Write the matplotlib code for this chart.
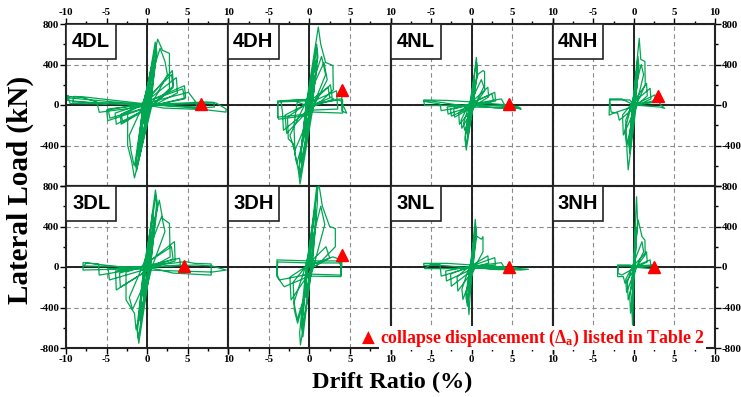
import matplotlib
matplotlib.use("Agg")
import matplotlib.pyplot as plt
from matplotlib.patches import Rectangle
import numpy as np

# specimen names, in panel order (row by row)
labels = ["4DL", "4DH", "4NL", "4NH", "3DL", "3DH", "3NL", "3NH"]

# collapse displacement markers (drift %, load kN)
collapse_drift = [6.6, 4.0, 4.6, 3.0, 4.5, 4.0, 4.6, 2.5]
collapse_load = [10, 150, 10, 90, 5, 120, 0, 0]

# hysteresis paths: (drift %, lateral load kN)
loop_4DL = [(0, 0), (0.4, 175), (0.45, 150), (0.15, 0), (-0.33, -190), (-0.4, -160), (-0.12, 0),
            (0.38, 160), (0.45, 130), (0.15, 0), (-0.35, -170), (-0.42, -140), (-0.1, 0),
            (0.6, 305), (0.7, 260), (0.25, 0), (-0.6, -320), (-0.7, -280), (-0.25, 0),
            (0.6, 280), (0.7, 240), (0.25, 0), (-0.6, -300), (-0.7, -260), (-0.2, 0),
            (0.8, 470), (0.95, 410), (0.35, 0), (-0.95, -515), (-1.05, -460), (-0.35, 0),
            (0.85, 430), (0.95, 380), (0.3, 0), (-1.0, -480), (-1.1, -420), (-0.3, 0),
            (1.0, 620), (1.15, 560), (0.45, 0), (-1.3, -650), (-1.4, -590), (-0.5, 0),
            (1.1, 580), (1.2, 520), (0.4, 0), (-1.35, -610), (-1.45, -550), (-0.45, 0),
            (1.3, 650), (1.9, 540), (2.75, 510), (2.75, 160), (0.6, 0), (-1.56, -720), (-1.9, -560),
            (-2.4, -400), (-2.4, -70), (-0.6, 0),
            (1.6, 560), (2.2, 430), (2.5, 300), (0.5, 0), (-1.6, -600), (-2.0, -450), (-2.2, -300), (-0.5, 0),
            (3.1, 340), (3.25, 190), (0.8, 0), (-3.2, -190), (-3.3, -100), (-0.8, 0),
            (3.0, 300), (3.2, 170), (0.7, 0), (-3.0, -170), (-3.2, -90), (-0.7, 0),
            (3.6, 270), (3.75, 120), (0.9, 0), (-3.8, -190), (-3.95, -80), (-1.0, 0),
            (4.6, 190), (4.75, 70), (1.0, 0), (-4.85, -155), (-5.0, -50), (-1.2, 0),
            (4.4, 160), (4.6, 60), (1.0, 0), (-4.6, -130), (-4.8, -40), (-1.0, 0),
            (5.1, 125), (5.9, 40), (6.2, -20), (1.0, 0), (-5.9, -72), (-6.2, 30), (-8, 75), (-9.8, 85),
            (-9.8, 45), (-6, 15), (-1, 0),
            (7.2, 30), (8.2, 26), (8.3, -20), (6, -30), (1, 0), (-7.8, 80), (-9.0, 85), (-9.2, 30),
            (-4, 20), (0, 0),
            (8.5, 20), (9.75, -40), (9.7, -70), (7, -45), (2, -30), (0, 0), (-9.6, 70), (-9.8, 95),
            (-9.5, 15), (-5, 10)]

loop_4DH = [(0, 0), (0.4, 260), (0.5, 200), (0.15, 0), (-0.5, -300), (-0.6, -250), (-0.15, 0),
            (0.45, 240), (0.5, 190), (0.15, 0), (-0.5, -280), (-0.6, -230), (-0.15, 0),
            (0.78, 440), (0.9, 380), (0.3, 0), (-0.95, -580), (-1.05, -500), (-0.3, 0),
            (0.8, 420), (0.9, 360), (0.3, 0), (-0.95, -540), (-1.05, -470), (-0.3, 0),
            (0.9, 600), (1.0, 520), (0.35, 0), (-1.15, -715), (-1.25, -620), (-0.4, 0),
            (0.95, 560), (1.05, 480), (0.35, 0), (-1.15, -680), (-1.25, -600), (-0.4, 0),
            (1.1, 770), (1.4, 600), (2.0, 420), (2.9, 390), (2.95, 150), (1.5, 40), (0.5, 0),
            (-1.15, -780), (-1.35, -650), (-1.77, -480), (-1.9, -200), (-1.5, 30), (-0.5, 0),
            (1.5, 480), (2.0, 300), (0.5, 0), (-1.56, -580), (-2.0, -380), (-2.6, -335), (-2.7, -120), (-0.6, 0),
            (1.8, 420), (2.2, 250), (0.6, 0), (-1.8, -450), (-2.4, -300), (-0.6, 0),
            (2.3, 175), (2.5, 80), (3.0, 60), (0.3, -20), (-3.2, -250), (-3.3, -80), (-3.5, 40),
            (-0.5, 50), (0, 0),
            (2.6, 200), (2.8, 80), (0.5, 0), (-2.8, -280), (-3.0, -100), (-0.6, 0),
            (3.35, 140), (3.4, 60), (3.5, -40), (0.5, -50), (0, -100), (-3.8, -140), (-3.9, -110),
            (-3.9, 40), (-0.5, 55), (0, 0),
            (3.8, 60), (4.1, 50), (4.1, -80), (0.5, -70), (-0.3, -90), (-3.9, -120), (-3.9, 30),
            (-0.5, 40), (0, 0),
            (3.5, 50), (3.9, 40), (4.6, -80), (4.0, -60), (4.0, 120)]

loop_4NL = [(0, 0), (0.3, 250), (0.4, 180), (0.1, 0), (-0.45, -320), (-0.55, -260), (-0.15, 0),
            (0.35, 230), (0.4, 170), (0.1, 0), (-0.45, -300), (-0.55, -240), (-0.15, 0),
            (0.58, 470), (0.7, 350), (0.2, 0), (-0.66, -445), (-0.8, -340), (-0.25, 0),
            (0.6, 420), (0.7, 320), (0.2, 0), (-0.7, -400), (-0.8, -310), (-0.25, 0),
            (0.8, 305), (1.4, 340), (1.6, 330), (1.6, 140), (0.4, 0), (-0.86, -250), (-1.0, -180), (-0.3, 0),
            (1.2, 250), (1.5, 180), (0.4, 0), (-1.2, -230), (-1.3, -150), (-0.4, 0),
            (2.0, 175), (2.1, 80), (0.5, 0), (-1.5, -190), (-1.6, -80), (-0.5, 0),
            (2.85, 125), (2.95, 40), (0.6, 0), (-2.1, -120), (-2.2, -40), (-0.6, 0),
            (2.5, 110), (2.7, 40), (0.6, 0), (-2.5, -110), (-2.6, -40), (-0.6, 0),
            (3.66, 60), (4.0, 10), (4.5, -10), (0.5, 0), (-2.9, -90), (-3.0, -20), (-0.5, 0),
            (5.0, -10), (6.1, -40), (5.5, -30), (3.0, -30), (0, 0), (-3.75, -56), (-3.9, 10),
            (-5.9, 36), (-5.9, 50), (-3, 45), (0, 30),
            (4.5, 0), (5.8, -20), (6.0, -30), (0, -20), (-5.0, 40), (-5.9, 40), (-5.8, -5), (-2, -5), (0, 0)]

loop_4NH = [(0, 0), (0.3, 300), (0.4, 220), (0.1, 0), (-0.3, -250), (-0.4, -200), (-0.1, 0),
            (0.5, 480), (0.6, 400), (0.15, 0), (-0.5, -480), (-0.6, -400), (-0.15, 0),
            (0.5, 440), (0.6, 370), (0.15, 0), (-0.5, -440), (-0.6, -370), (-0.15, 0),
            (0.66, 658), (0.85, 450), (1.36, 430), (1.4, 200), (0.3, 0), (-0.7, -640), (-0.85, -450),
            (-0.9, -345), (-1.0, -150), (-0.3, 0),
            (0.9, 400), (1.2, 300), (0.3, 0), (-0.9, -400), (-1.1, -250), (-0.3, 0),
            (1.56, 214), (1.65, 90), (0.4, 0), (-1.3, -296), (-1.4, -100), (-0.4, 0),
            (2.0, 165), (2.1, 60), (0.5, 0), (-1.8, -150), (-2.0, -80), (-2.8, -70), (-3.0, 60),
            (-1.5, 60), (0, 0),
            (2.6, 100), (2.7, 30), (0.5, 0), (-2.5, -80), (-3.05, -100), (-3.0, 50), (-0.5, 50), (0, 0),
            (3.0, 50), (3.3, 0), (3.8, -33), (3.2, -20), (0, 0)]

loop_3DL = [(0, 0), (0.4, 300), (0.5, 240), (0.15, 0), (-0.4, -300), (-0.5, -250), (-0.15, 0),
            (0.45, 280), (0.5, 230), (0.15, 0), (-0.45, -280), (-0.5, -230), (-0.15, 0),
            (0.7, 550), (0.8, 470), (0.25, 0), (-0.8, -560), (-0.9, -480), (-0.25, 0),
            (0.75, 520), (0.85, 450), (0.25, 0), (-0.85, -530), (-0.95, -460), (-0.25, 0),
            (1.03, 760), (1.2, 650), (0.4, 0), (-1.03, -753), (-1.2, -640), (-0.4, 0),
            (1.1, 700), (1.25, 600), (0.4, 0), (-1.1, -700), (-1.25, -600), (-0.4, 0),
            (1.5, 660), (1.9, 480), (2.75, 430), (2.84, 100), (0.6, 0), (-1.36, -620), (-1.56, -457),
            (-2.6, -325), (-2.6, -50), (-0.6, 0),
            (1.8, 500), (2.2, 350), (0.6, 0), (-1.8, -420), (-2.2, -300), (-0.6, 0),
            (3.37, 250), (3.45, 60), (0.7, 0), (-3.8, -227), (-3.9, -40), (-0.8, 0),
            (3.0, 200), (3.2, 80), (0.7, 0), (-3.3, -200), (-3.4, -60), (-0.8, 0),
            (4.0, 86), (4.1, 20), (0.8, 0), (-4.65, -128), (-4.8, -20), (-0.9, 0),
            (4.8, 53), (5.8, 36), (7.9, 30), (7.9, -80), (3.2, -60), (0, 0), (-5.9, -80), (-6.0, 30),
            (-7.9, 43), (-7.9, -30), (-3, -20), (0, 0),
            (6.0, 20), (8.0, 10), (9.75, -30), (8.0, -50), (0, -30), (-7.5, 40), (-7.8, 10), (0, 0)]

loop_3DH = [(0, 0), (0.4, 300), (0.5, 240), (0.15, 0), (-0.4, -300), (-0.5, -250), (-0.15, 0),
            (0.7, 600), (0.8, 500), (0.25, 0), (-0.8, -690), (-0.9, -600), (-0.25, 0),
            (0.75, 560), (0.85, 480), (0.25, 0), (-0.85, -640), (-0.95, -560), (-0.25, 0),
            (0.9, 790), (1.0, 650), (0.35, 0), (-1.1, -770), (-1.2, -650), (-0.4, 0),
            (1.15, 830), (1.6, 600), (2.5, 400), (3.2, 380), (3.2, 200), (1, 20), (0.4, 0),
            (-1.45, -555), (-1.85, -425), (-2.0, -150), (-0.5, 0),
            (1.4, 600), (1.9, 420), (0.5, 0), (-1.5, -520), (-1.9, -350), (-0.5, 0),
            (2.05, 200), (2.5, 90), (0.5, 0), (-2.26, -325), (-2.4, -100), (-0.5, 0),
            (2.9, 100), (3.9, 70), (3.9, -95), (0, -90), (-3.1, -195), (-4.0, -95), (-4.0, 70), (0, 60),
            (3.5, 60), (3.9, 30), (3.9, -80), (0, -70), (-3.7, -128), (-4.0, -70), (-3.9, 50), (0, 40),
            (3.7, 40), (4.0, 0), (4.0, 120)]

loop_3NL = [(0, 0), (0.3, 300), (0.4, 220), (0.1, 0), (-0.2, -300), (-0.33, -470), (-0.45, -330), (-0.1, 0),
            (0.45, 470), (0.55, 350), (0.15, 0), (-0.53, -385), (-0.65, -300), (-0.2, 0),
            (0.5, 400), (0.6, 300), (0.15, 0), (-0.6, -350), (-0.7, -270), (-0.2, 0),
            (0.58, 305), (1.2, 275), (1.4, 300), (1.4, 150), (0.4, 0), (-1.07, -320), (-1.2, -220), (-0.3, 0),
            (2.0, 110), (2.1, 40), (0.5, 0), (-1.7, -237), (-1.8, -100), (-0.4, 0),
            (2.85, 92), (2.95, 20), (0.6, 0), (-2.5, -190), (-2.6, -70), (-0.5, 0),
            (3.66, 43), (4.0, 0), (0.6, 0), (-3.1, -138), (-3.2, -40), (-0.6, 0),
            (5.0, -10), (7.0, -23), (6.0, -30), (3.0, -25), (0, 0), (-3.75, -90), (-3.9, 20),
            (-5.9, 16), (-5.9, 36), (-3, 36), (0, 20),
            (4.0, 0), (6.0, -15), (3.0, -20), (0, -10), (-5.0, 25), (-5.8, -16), (-2, -16), (0, 0)]

loop_3NH = [(0, 0), (0.2, 400), (0.3, 250), (0.05, 0), (-0.16, -572), (-0.25, -400), (-0.05, 0),
            (0.33, 694), (0.45, 450), (0.1, 0), (-0.41, -457), (-0.5, -300), (-0.1, 0),
            (0.53, 464), (1.0, 300), (1.36, 266), (1.4, 120), (0.3, 0), (-0.7, -325), (-0.8, -150), (-0.2, 0),
            (1.0, 250), (1.2, 150), (0.3, 0), (-0.9, -250), (-1.0, -120), (-0.2, 0),
            (1.56, 150), (1.65, 50), (0.3, 0), (-1.1, -160), (-1.3, -95), (-2.0, -95), (-2.0, 20),
            (-0.5, 20), (0, 0),
            (2.0, 70), (2.1, 10), (0.3, 0), (-1.5, -80), (-2.0, -60), (-1.9, 10), (0, 10),
            (2.4, 20), (3.0, -13), (2.5, -20), (0, 0)]

loops = [loop_4DL, loop_4DH, loop_4NL, loop_4NH, loop_3DL, loop_3DH, loop_3NL, loop_3NH]

green = "#00a651"
plt.rcParams["font.family"] = "Liberation Serif"
plt.rcParams["font.weight"] = "bold"
plt.rcParams["mathtext.fontset"] = "custom"
plt.rcParams["mathtext.rm"] = "Liberation Serif:bold"
plt.rcParams["mathtext.it"] = "Liberation Serif:bold"

fig, axes = plt.subplots(2, 4, figsize=(7.41, 3.97), dpi=100)
fig.subplots_adjust(left=66 / 741, right=715 / 741, top=1 - 24 / 397, bottom=1 - 348 / 397,
                    wspace=0, hspace=0)

for i, ax in enumerate(axes.flat):
    row, col = divmod(i, 4)
    pts = np.array(loops[i])
    ax.set_xlim(-10, 10)
    ax.set_ylim(-800, 800)
    ax.set_xticks([-10, -5, 0, 5, 10])
    ax.set_xticks(np.arange(-10, 10.1, 2.5), minor=True)
    ax.set_yticks([-800, -400, 0, 400, 800])
    ax.set_yticks(np.arange(-800, 801, 200), minor=True)
    ax.grid(True, which="major", color="#8c8c8c", linestyle=(0, (4, 3)), linewidth=0.8)
    ax.axhline(0, color="#222222", lw=1.4, zorder=2)
    ax.axvline(0, color="#222222", lw=1.4, zorder=2)
    ax.plot(pts[:, 0], pts[:, 1], color=green, lw=0.9, zorder=3, clip_on=True)
    ax.plot(collapse_drift[i], collapse_load[i], marker="^", color="red", ms=8, zorder=4,
            linestyle="none")
    for s in ax.spines.values():
        s.set_linewidth(1.5)
        s.set_color("#222222")
    ax.tick_params(which="both", direction="out", labelsize=7.8, pad=1,
                   top=(row == 0), bottom=(row == 1), labeltop=(row == 0), labelbottom=(row == 1),
                   left=(col == 0), right=(col == 3), labelleft=(col == 0), labelright=(col == 3))
    ax.tick_params(which="major", length=4, width=1)
    ax.tick_params(which="minor", length=2.5, width=1)
    xl = ["-10", "-5", "0", "5", "10"] if col == 0 else ["", "-5", "0", "5", "10"]
    ax.set_xticklabels(xl)
    yl = ["-800", "-400", "0", "400", "800"] if row == 1 else ["", "-400", "0", "400", "800"]
    ax.set_yticklabels(yl)
    for t in ax.get_xticklabels() + ax.get_yticklabels():
        t.set_fontweight("bold")
    ax.add_patch(Rectangle((0, 1 - 0.215), 0.31, 0.215, transform=ax.transAxes, facecolor="white",
                           edgecolor="#222222", lw=1.2, zorder=5))
    ax.text(0.155, 1 - 0.1075, labels[i], transform=ax.transAxes, ha="center", va="center",
            family="Liberation Sans", fontweight="bold", fontsize=14.5, zorder=6)

fig.text(20 / 741, 1 - 190 / 397, "Lateral Load (kN)", rotation=90, ha="center", va="center",
         fontsize=21, fontweight="bold")
fig.text(392 / 741, 1 - 382 / 397, "Drift Ratio (%)", ha="center", va="center",
         fontsize=17.5, fontweight="bold")

fig.text(380 / 741, 1 - 338 / 397,
         r"collapse displacement ($\Delta_{\rm a}$) listed in Table 2",
         ha="left", va="center", color="red", fontsize=12.8, fontweight="bold", zorder=10,
         bbox=dict(facecolor="white", edgecolor="none", pad=1))
fig.text(368 / 741, 1 - 338 / 397, "\u25b2", ha="center", va="center", color="red",
         fontsize=12, family="DejaVu Sans", zorder=10)

fig.savefig("out.png", dpi=100)
